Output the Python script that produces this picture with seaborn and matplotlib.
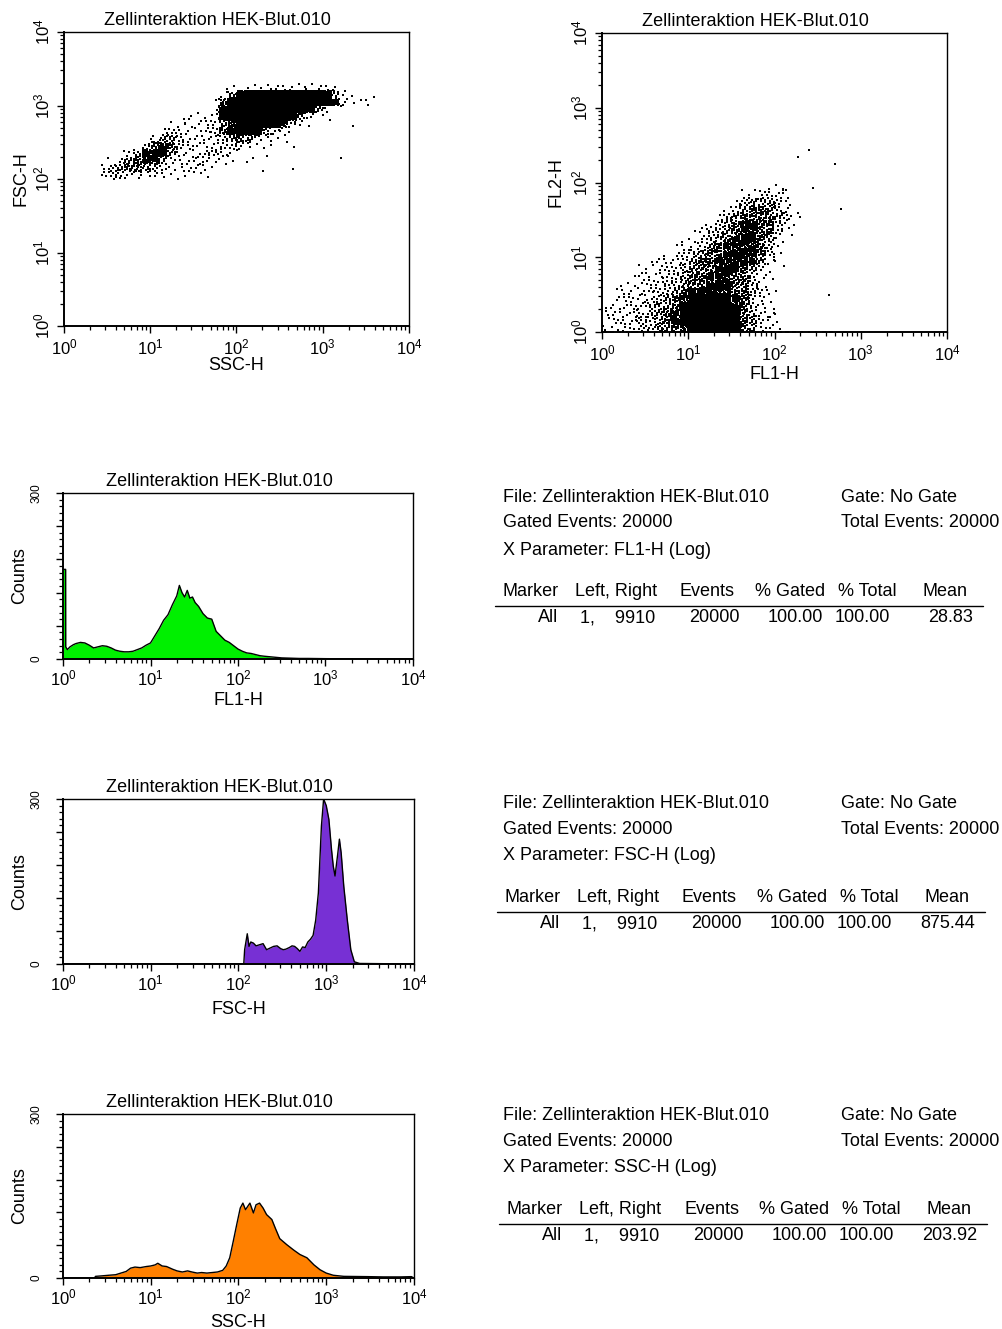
import numpy as np
import pandas as pd
import matplotlib
matplotlib.use("Agg")
import matplotlib.pyplot as plt
from matplotlib.lines import Line2D
from matplotlib.ticker import (LogLocator, LogFormatterSciNotation, MultipleLocator,
                               FuncFormatter, NullFormatter)
import seaborn as sns

sns.set_style("ticks", {"axes.edgecolor": "black", "xtick.color": "black",
                        "ytick.color": "black", "text.color": "black",
                        "axes.labelcolor": "black"})
plt.rcParams["font.family"] = ["Liberation Sans", "DejaVu Sans"]
plt.rcParams["mathtext.fontset"] = "custom"
plt.rcParams["mathtext.rm"] = "Liberation Sans"
plt.rcParams["mathtext.it"] = "Liberation Sans:italic"
plt.rcParams["mathtext.bf"] = "Liberation Sans:bold"
plt.rcParams["xtick.bottom"] = True
plt.rcParams["ytick.left"] = True

TITLE = "Zellinteraktion HEK-Blut.010"

# ---------------------------------------------------------------- dot plots
# Event density per 0.1-decade cell; digit = density level, "." = empty.
LEVEL_EVENTS = [0, 1, 2, 3, 5, 8, 12, 20, 40, 100]

# SSC-H (columns, log10 0.4 .. 3.6) vs FSC-H (rows, top row log10 3.2-3.3 down to 2.0-2.1)
SSC_FSC_X0 = 0.4
SSC_FSC_YTOP = 3.2
SSC_FSC_GRID = [
    "..............11122222222222....",
    "..............2589999999998521.1",
    ".............1699999999999973112",
    ".............27999999999852.1...",
    ".........121137999999985311.....",
    "........12222357999997421....1..",
    ".......2332234689875321.........",
    "......3554223345653211..........",
    ".....467643223443211111.........",
    "...35777532344321..1............",
    ".135677532233211.2..........1...",
    "24566543222321.....1..1.........",
    "3443322211111...................",
]

# FL1-H (columns, log10 0.0 .. 2.9) vs FL2-H (rows, top row log10 2.4-2.5 down to 0.0-0.1)
FL1_FL2_X0 = 0.0
FL1_FL2_YTOP = 2.4
FL1_FL2_GRID = [
    "........................1....",
    "......................1......",
    "...........................1.",
    ".............................",
    ".............................",
    "...................121..1....",
    "................123322.......",
    "...............1455542.......",
    "..............24566543.....1.",
    ".............1456666542......",
    "............14567766421......",
    "..........124456776641.......",
    ".........1224567776521.......",
    "........1224567777641........",
    ".......12345667777641........",
    ".....1223456677777521........",
    "....1223345667776531.1.......",
    "...12233456677766421.........",
    "..122334456677766421.........",
    ".12233445677777664321........",
    ".2233345678888776431......1..",
    "12333455678999876431.........",
    "223344567889999865321........",
    "233344567889999865321........",
    "223344556789999865321........",
]
# events piled up in the lowest FL2-H channel
FL2_FLOOR_ROW = "22222222444444443333222222222"

# ---------------------------------------------------------------- histograms
FL1_LOG = [0.00, 0.03, 0.031, 0.05, 0.08, 0.12, 0.15, 0.20, 0.25, 0.30, 0.35, 0.40,
           0.45, 0.50, 0.55, 0.60, 0.65, 0.70, 0.75, 0.80, 0.85, 0.90, 0.95, 1.00,
           1.05, 1.10, 1.15, 1.20, 1.25, 1.30, 1.33, 1.36, 1.39, 1.42, 1.45, 1.48,
           1.51, 1.55, 1.60, 1.65, 1.70, 1.75, 1.80, 1.85, 1.90, 1.95, 2.00, 2.05,
           2.10, 2.15, 2.20, 2.25, 2.30, 2.40, 2.50, 2.60, 2.70, 2.80, 3.00, 3.20,
           3.40, 3.60, 4.00]
FL1_COUNTS = [162, 162, 22, 17, 22, 26, 28, 30, 29, 25, 20, 22,
              24, 23, 20, 16, 14, 13, 13, 14, 17, 20, 25, 29,
              42, 55, 70, 80, 98, 114, 133, 120, 112, 124, 110, 112,
              102, 95, 82, 74, 72, 50, 42, 34, 30, 24, 18, 14,
              11, 10, 8, 6, 5, 3.5, 2, 1.5, 1, 1, 0.6, 0.4,
              0.2, 0.2, 0]

FSC_LOG = [0.00, 2.06, 2.07, 2.10, 2.12, 2.14, 2.17, 2.20, 2.24, 2.28, 2.32, 2.36,
           2.40, 2.44, 2.48, 2.51, 2.54, 2.58, 2.61, 2.64, 2.67, 2.70, 2.73, 2.76,
           2.79, 2.82, 2.85, 2.88, 2.91, 2.945, 2.97, 3.00, 3.03, 3.06, 3.08, 3.10,
           3.13, 3.15, 3.17, 3.20, 3.24, 3.28, 3.32, 3.38, 4.00]
FSC_COUNTS = [0, 0, 26, 55, 32, 40, 38, 33, 35, 37, 26, 29,
              32, 33, 28, 26, 27, 30, 33, 32, 28, 23, 31, 30,
              40, 45, 52, 80, 129, 251, 300, 288, 263, 208, 178, 160,
              199, 227, 202, 141, 80, 26, 4, 1, 0]

SSC_LOG = [0.00, 0.36, 0.37, 0.45, 0.52, 0.60, 0.66, 0.72, 0.77, 0.82, 0.88, 0.95,
           1.00, 1.05, 1.08, 1.13, 1.18, 1.25, 1.30, 1.36, 1.42, 1.47, 1.53, 1.58,
           1.64, 1.70, 1.76, 1.82, 1.86, 1.90, 1.94, 1.98, 2.02, 2.05, 2.08, 2.13,
           2.17, 2.20, 2.24, 2.28, 2.32, 2.38, 2.42, 2.47, 2.55, 2.63, 2.70, 2.78,
           2.86, 2.93, 3.00, 3.08, 3.20, 3.47, 3.65, 3.85, 3.97, 4.00]
SSC_COUNTS = [0, 0, 3, 4, 5, 6, 9, 12, 18, 20, 19, 21,
              22, 24, 27, 22, 21, 16, 13, 11, 13, 11, 9, 10,
              9, 10, 11, 14, 22, 37, 67, 98, 128, 137, 125, 137,
              119, 134, 137, 128, 116, 107, 91, 72, 61, 51, 43, 37,
              24, 15, 9, 5, 3, 2.5, 2, 2, 2.5, 0]

HIST_PARAMS = ["FL1-H", "FSC-H", "SSC-H"]
HIST_COLORS = ["#00f000", "#7730d4", "#ff8000"]
HIST_MEANS = ["28.83", "875.44", "203.92"]
EVENTS_TOTAL = "20000"
MARKER_RANGE = "1,    9910"

# ---------------------------------------------------------------- layout helpers
W, H = 1003, 1329
fig = plt.figure(figsize=(W / 100, H / 100), dpi=100)
PT = 72 / 100  # points per pixel


def add_axes_px(left, top, right, bottom):
    return fig.add_axes([left / W, 1 - bottom / H, (right - left) / W, (bottom - top) / H])


R2 = (0.7548776662466927, 0.5698402909980532)


def grid_events(rows, x0, y_top, step=0.1):
    xs, ys = [], []
    for r, row in enumerate(rows):
        y_low = y_top - r * step
        for c, ch in enumerate(row):
            n = 0 if ch == "." else LEVEL_EVENTS[int(ch)]
            if not n:
                continue
            k = np.arange(n) + 7 * r + 13 * c
            xs.append(x0 + (c + (0.5 + k * R2[0]) % 1.0) * step)
            ys.append(y_low + ((0.5 + k * R2[1]) % 1.0) * step)
    return 10 ** np.concatenate(xs), 10 ** np.concatenate(ys)


def floor_events(row, x0, step=0.1):
    xs = []
    for c, ch in enumerate(row):
        n = 0 if ch == "." else LEVEL_EVENTS[int(ch)]
        k = np.arange(n) + 13 * c
        xs.append(x0 + (c + (0.5 + k * R2[0]) % 1.0) * step)
    xs = 10 ** np.concatenate(xs)
    return xs, np.ones_like(xs)


def style_frame(ax):
    for side in ("left", "bottom"):
        ax.spines[side].set_linewidth(1.4)
    for side in ("top", "right"):
        ax.spines[side].set_linewidth(1.0)
        ax.spines[side].set_visible(True)


def log_axis(axis):
    axis.set_major_locator(LogLocator(base=10, numticks=10))
    axis.set_minor_locator(LogLocator(base=10, subs=np.arange(2, 10), numticks=10))
    axis.set_major_formatter(LogFormatterSciNotation())
    axis.set_minor_formatter(NullFormatter())


def tick_style(ax, major_len=7, minor_len=4):
    ax.tick_params(which="both", direction="out", bottom=True, left=True, top=False,
                   right=False, color="black")
    ax.tick_params(which="major", length=major_len * PT, width=1.0)
    ax.tick_params(which="minor", length=minor_len * PT, width=0.9)


def label_at(ax, xlabel, ylabel, xlab_top, ylab_right):
    ax.set_xlabel(xlabel, fontsize=13)
    ax.set_ylabel(ylabel, fontsize=13)
    bb = ax.get_position()
    ax.xaxis.set_label_coords((bb.x0 + bb.x1) / 2, 1 - xlab_top / H, transform=fig.transFigure)
    ax.yaxis.set_label_coords(ylab_right / W, (bb.y0 + bb.y1) / 2, transform=fig.transFigure)


# ---------------------------------------------------------------- dot plots
dot_specs = [
    ((64, 32, 409, 326), "SSC-H", "FSC-H", 357, 30,
     grid_events(SSC_FSC_GRID, SSC_FSC_X0, SSC_FSC_YTOP), None),
    ((602, 33, 947, 332), "FL1-H", "FL2-H", 366, 565,
     grid_events(FL1_FL2_GRID, FL1_FL2_X0, FL1_FL2_YTOP), floor_events(FL2_FLOOR_ROW, FL1_FL2_X0)),
]
for box, xl, yl, xlab_top, ylab_right, (xs, ys), floor in dot_specs:
    ax = add_axes_px(*box)
    ax.set_xscale("log")
    ax.set_yscale("log")
    if floor is not None:
        xs = np.concatenate([xs, floor[0]])
        ys = np.concatenate([ys, floor[1]])
    dots = pd.DataFrame({"x": xs, "y": ys})
    sns.scatterplot(data=dots, x="x", y="y", ax=ax, color="black", marker="s",
                    s=1.3, linewidth=0, legend=False)
    ax.set_xlim(1, 1e4)
    ax.set_ylim(1, 1e4)
    log_axis(ax.xaxis)
    log_axis(ax.yaxis)
    style_frame(ax)
    tick_style(ax)
    ax.tick_params(axis="both", which="major", labelsize=12)
    ax.tick_params(axis="x", which="major", pad=3)
    ax.tick_params(axis="y", which="major", labelrotation=90, pad=3)
    for t in ax.get_yticklabels():
        t.set_verticalalignment("center")
    ax.set_title(TITLE, fontsize=13, pad=5, x=0.444)
    label_at(ax, xl, yl, xlab_top, ylab_right)

# ---------------------------------------------------------------- histograms
hist_specs = [
    ((63, 493, 413, 659), FL1_LOG, FL1_COUNTS, 692),
    ((63, 799, 414, 964), FSC_LOG, FSC_COUNTS, 1001),
    ((63, 1114, 414, 1278), SSC_LOG, SSC_COUNTS, 1314),
]
for (box, lx, counts, xlab_top), param, color in zip(hist_specs, HIST_PARAMS, HIST_COLORS):
    ax = add_axes_px(*box)
    ax.set_xscale("log")
    hist = pd.DataFrame({"channel": 10 ** np.asarray(lx), "count": counts})
    ax.fill_between(hist["channel"], 0, hist["count"], color=color, linewidth=0)
    sns.lineplot(data=hist, x="channel", y="count", ax=ax, color="black", linewidth=1.0,
                 sort=False, estimator=None)
    ax.set_xlim(1, 1e4)
    ax.set_ylim(0, 300)
    log_axis(ax.xaxis)
    ax.yaxis.set_major_locator(MultipleLocator(60))
    ax.yaxis.set_minor_locator(MultipleLocator(12))
    ax.yaxis.set_major_formatter(FuncFormatter(lambda v, p: {0: "0", 300: "300"}.get(int(round(v)), "")))
    style_frame(ax)
    tick_style(ax)
    ax.tick_params(axis="x", which="major", labelsize=12, pad=2)
    ax.tick_params(axis="y", which="major", labelsize=8.5, labelrotation=90, pad=10)
    for t in ax.get_yticklabels():
        t.set_verticalalignment("center")
    ax.set_title(TITLE, fontsize=13, pad=5, x=0.446)
    label_at(ax, param, "Counts", xlab_top, 28)

# ---------------------------------------------------------------- statistics blocks
def ftext(x, y, s, ha="left"):
    fig.text(x / W, 1 - y / H, s, ha=ha, va="center", fontsize=13)


header_cols = [("Marker", 0), ("Left, Right", 72), ("Events", 177), ("% Gated", 252),
               ("% Total", 335), ("Mean", 420)]
value_right = [55, 152, 237, 320, 387, 470]
for i, (param, mean) in enumerate(zip(HIST_PARAMS, HIST_MEANS)):
    y0 = [497, 803, 1115][i]
    dx = [0, 2, 4][i]
    ftext(503, y0, f"File: {TITLE}")
    ftext(841, y0, "Gate: No Gate")
    ftext(503, y0 + 26, f"Gated Events: {EVENTS_TOTAL}")
    ftext(841, y0 + 26, f"Total Events: {EVENTS_TOTAL}")
    ftext(503, y0 + 53, f"X Parameter: {param} (Log)")
    for name, off in header_cols:
        ftext(503 + dx + off, y0 + 95, name)
    fig.add_artist(Line2D([(495 + dx) / W, (983 + dx) / W], [1 - (y0 + 109) / H] * 2,
                          transform=fig.transFigure, color="black", linewidth=1.0))
    row = ["All", MARKER_RANGE, EVENTS_TOTAL, "100.00", "100.00", mean]
    for s, off in zip(row, value_right):
        ftext(503 + dx + off, y0 + 121, s, ha="right")

fig.savefig("out.png", dpi=100)
